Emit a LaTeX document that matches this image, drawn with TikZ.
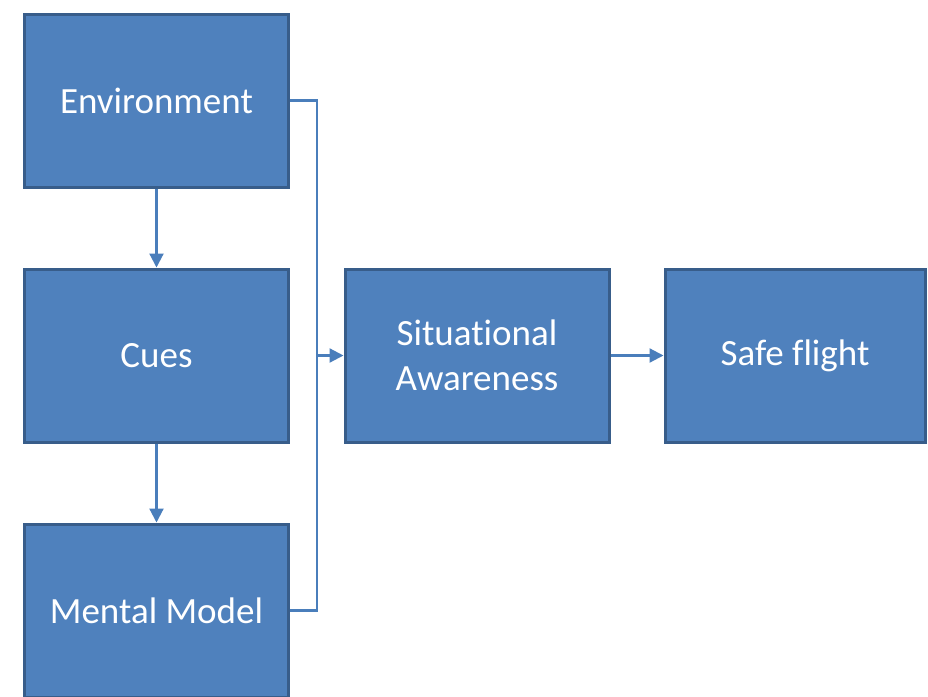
\documentclass[tikz,border=0pt]{standalone}
\usepackage{fontspec}
\setmainfont[Ligatures=NoCommon]{Carlito}
\usetikzlibrary{arrows.meta}
\definecolor{boxfill}{HTML}{4F81BD}
\definecolor{boxline}{HTML}{385D8A}
\definecolor{linkline}{HTML}{4A7EBB}
\tikzset{
    blok/.style={draw=boxline, fill=boxfill, line width=3pt, minimum width=264pt,
        minimum height=173pt, inner sep=0pt, text=white, align=center,
        font=\fontsize{37}{45}\selectfont},
    veza/.style={draw=linkline, line width=2.2pt},
    strelica/.style={veza, -{Triangle[length=14pt,width=14pt]}}
}
\begin{document}
\begin{tikzpicture}[x=1pt,y=-1pt]
    \clip (0,0) rectangle (928,696);
    \fill[white] (0,0) rectangle (928,696);

    \node[blok] (env) at (156.5,100.5) {Environment};
    \node[blok] (cues) at (156.5,355.5) {Cues};
    \node[blok] (mm) at (156.5,610.5) {Mental Model};
    \node[blok] (sa) at (477,355.5) {Situational\\Awareness};
    \node[blok, minimum width=260pt] (safe) at (795,355.5) {Safe flight};

    \coordinate (spoj) at (317,355.5);
    \draw[veza] (env.east) -| (spoj) |- (mm.east);
    \draw[strelica] (spoj) -- (sa.west);
    \draw[strelica] (sa.east) -- (safe.west);
    \draw[strelica] (env.south) -- (cues.north);
    \draw[strelica] (cues.south) -- (mm.north);
\end{tikzpicture}
\end{document}
